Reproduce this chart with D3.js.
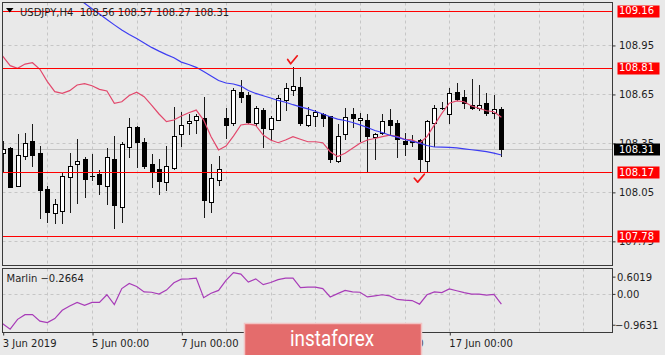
<!DOCTYPE html>
<html><head><meta charset="utf-8">
<script src="https://cdn.jsdelivr.net/npm/d3@7"></script>
<style>html,body{margin:0;padding:0;background:#e9e9e9;overflow:hidden}</style>
</head><body><svg id="c" width="665" height="355"></svg>
<script>
// ---------- DATA ----------
const symbol = "USDJPY,H4";
const open = [108.29,108.317,108.088,108.272,108.362,108.290,108.068,107.919,107.933,108.139,
  108.219,108.251,108.148,108.160,108.088,108.251,107.959,108.323,108.446,108.354,
  108.221,108.188,108.109,108.198,108.403,108.474,108.490,108.501,107.986,108.123,
  108.501,108.470,108.664,108.643,108.474,108.551,108.433,108.490,108.613,108.674,
  108.694,108.460,108.515,108.527,108.515,108.239,108.405,108.527,108.490,108.490,
  108.384,108.409,108.490,108.474,108.362,108.357,108.368,108.241,108.474,108.566,
  108.527,108.664,108.633,108.582,108.566,108.596,108.535,108.56];
const high = [108.36,108.325,108.403,108.409,108.464,108.331,108.088,108.005,108.164,108.290,
  108.374,108.266,108.282,108.184,108.317,108.394,108.357,108.504,108.454,108.382,
  108.282,108.250,108.331,108.568,108.541,108.527,108.527,108.633,108.221,108.272,
  108.566,108.684,108.735,108.664,108.576,108.562,108.515,108.643,108.719,108.813,
  108.752,108.572,108.551,108.531,108.515,108.464,108.562,108.562,108.531,108.527,
  108.409,108.527,108.556,108.490,108.409,108.398,108.376,108.490,108.582,108.602,
  108.684,108.719,108.674,108.740,108.705,108.654,108.643,108.57];
const low = [108.18,108.078,108.085,108.250,108.209,107.888,107.867,107.861,107.858,107.929,
  107.984,108.021,108.123,108.037,107.976,107.827,107.867,108.266,108.201,108.198,
  108.082,108.037,108.062,108.188,108.331,108.403,108.409,107.894,107.929,108.092,
  108.378,108.460,108.602,108.470,108.459,108.327,108.368,108.490,108.551,108.643,
  108.460,108.454,108.454,108.454,108.231,108.235,108.372,108.449,108.363,108.180,
  108.250,108.405,108.405,108.262,108.276,108.331,108.174,108.180,108.331,108.556,
  108.470,108.613,108.562,108.556,108.551,108.521,108.501,108.27];
const close = [108.31,108.082,108.276,108.351,108.276,108.062,107.929,107.976,108.149,108.210,
  108.239,108.129,108.146,108.098,108.262,107.970,108.341,108.449,108.357,108.209,
  108.180,108.119,108.210,108.392,108.460,108.484,108.513,108.000,108.133,108.188,
  108.460,108.674,108.629,108.480,108.562,108.439,108.501,108.623,108.684,108.700,
  108.474,108.521,108.541,108.501,108.251,108.392,108.510,108.501,108.501,108.392,
  108.405,108.486,108.460,108.372,108.341,108.363,108.250,108.486,108.562,108.564,
  108.654,108.619,108.596,108.562,108.582,108.535,108.556,108.31];
const redMA = [108.882,108.823,108.807,108.833,108.841,108.801,108.725,108.664,108.654,108.670,
  108.705,108.713,108.700,108.678,108.668,108.593,108.602,108.640,108.660,108.633,
  108.582,108.527,108.480,108.490,108.515,108.535,108.551,108.490,108.388,108.307,
  108.331,108.392,108.460,108.466,108.457,108.398,108.368,108.351,108.368,108.388,
  108.372,108.357,108.357,108.351,108.296,108.266,108.286,108.317,108.348,108.368,
  108.377,108.388,108.398,108.388,108.372,108.368,108.348,108.388,108.460,108.531,
  108.593,108.607,108.602,108.576,108.562,108.547,108.541,108.507];
const blueStart = 10;
const blueMA = [109.24,109.205,109.172,109.139,109.106,109.073,109.041,109.014,108.989,108.962,
  108.935,108.912,108.891,108.872,108.845,108.830,108.813,108.787,108.760,108.732,
  108.717,108.711,108.698,108.671,108.653,108.639,108.625,108.610,108.599,108.584,
  108.571,108.558,108.544,108.527,108.510,108.496,108.487,108.475,108.460,108.444,
  108.426,108.414,108.397,108.385,108.371,108.360,108.349,108.334,108.325,108.324,
  108.322,108.319,108.313,108.308,108.303,108.296,108.287,108.276];
const marlin = [-0.81,-0.963,-0.69,-0.56,-0.56,-0.74,-0.78,-0.67,-0.44,-0.32,
  -0.22,-0.30,-0.22,-0.22,-0.01,-0.28,0.16,0.30,0.22,0.07,
  0.06,0.01,0.12,0.32,0.42,0.43,0.45,-0.09,0.03,0.11,
  0.39,0.6019,0.56,0.34,0.43,0.27,0.33,0.41,0.45,0.45,
  0.19,0.20,0.20,0.16,-0.07,0.02,0.11,0.07,0.06,-0.07,
  -0.04,-0.01,-0.04,-0.14,-0.16,-0.17,-0.27,-0.01,0.07,0.05,
  0.15,0.10,0.05,0.01,0.01,-0.02,0.00,-0.2664];
const levels = [109.16,108.81,108.17,107.78];
const priceTicks = [108.95,108.65,108.35,108.05,107.75];
const lastPrice = 108.31;
const timeLabels = ["3 Jun 2019","5 Jun 00:00","7 Jun 00:00","11 Jun 00:00","13 Jun 00:00","17 Jun 00:00"];
const timeLabelBars = [0,12,24,36,48,60];
const dayBars = [6,12,18,24,30,36,42,48,54,60,66,72,78];
const marlinTicks = [0.6019,0.00,-0.9631];
const marlinName = "Marlin";
const checkHighBar = 39, checkLowBar = 56;

// ---------- LAYOUT ----------
const svg = d3.select("#c");
const L = 2.5, R = 612.5, T = 2.5, B = 265.5, LT = 268.5, LB = 332.5;
const x = d3.scaleLinear().domain([0, 67]).range([2.7, 2.7 + 67*7.443]);
const y = d3.scaleLinear().domain([107.602, 109.207]).range([265, 3]);
const ym = d3.scaleLinear().domain([-1.059, 0.7105]).range([332.7, 268.7]);
const px = v => Math.round(v) + 0.5;
const FONT = "DejaVu Sans, Verdana, sans-serif";
const BG = "#e9e9e9";

svg.append("rect").attr("width",665).attr("height",355).attr("fill",BG);

const defs = svg.append("defs");
defs.append("clipPath").attr("id","cm").append("rect").attr("x",L).attr("y",T).attr("width",R-L).attr("height",B-T);
defs.append("clipPath").attr("id","cl").append("rect").attr("x",L).attr("y",LT).attr("width",R-L).attr("height",LB-LT);

const grid = svg.append("g").attr("stroke","#c6c6c6").attr("stroke-dasharray","3,3").attr("stroke-width",1);
dayBars.forEach(b => {
  const gx = px(x(b));
  if (gx < R) {
    grid.append("line").attr("x1",gx).attr("x2",gx).attr("y1",T).attr("y2",B);
    grid.append("line").attr("x1",gx).attr("x2",gx).attr("y1",LT).attr("y2",LB);
  }
});
priceTicks.forEach(p => grid.append("line").attr("x1",L).attr("x2",R).attr("y1",px(y(p))).attr("y2",px(y(p))));
grid.append("line").attr("x1",L).attr("x2",R).attr("y1",px(ym(0))).attr("y2",px(ym(0)));

// bid line
svg.append("line").attr("x1",L).attr("x2",R).attr("y1",px(y(lastPrice))).attr("y2",px(y(lastPrice)))
  .attr("stroke","#c4c4c4").attr("stroke-width",1);

// candles
const cg = svg.append("g").attr("clip-path","url(#cm)");
open.forEach((o,i) => {
  const c = close[i];
  const cx = Math.round(x(i));
  cg.append("line").attr("x1",cx+0.5).attr("x2",cx+0.5)
    .attr("y1",Math.round(y(high[i]))).attr("y2",Math.round(y(low[i]))+1)
    .attr("stroke","#1a1a1a").attr("stroke-width",1);
  const top = Math.round(y(Math.max(o,c))) + 0.5;
  const bot = Math.round(y(Math.min(o,c))) + 0.5;
  if (bot - top < 1) {
    cg.append("line").attr("x1",cx-2).attr("x2",cx+3).attr("y1",top).attr("y2",top)
      .attr("stroke","#000").attr("stroke-width",1);
  } else {
    cg.append("rect").attr("x",cx-1.5).attr("width",4).attr("y",top).attr("height",bot-top)
      .attr("fill", c >= o ? "#fff" : "#000").attr("stroke","#000").attr("stroke-width",1);
  }
});

// moving averages
const lineFn = d3.line().x(d=>x(d[0])).y(d=>y(d[1]));
const lg = svg.append("g").attr("clip-path","url(#cm)").attr("fill","none");
lg.append("path").attr("d", lineFn(redMA.map((v,i)=>[i,v]))).attr("stroke","#e2486c").attr("stroke-width",1.2);
lg.append("path").attr("d", lineFn(blueMA.map((v,i)=>[i+blueStart,v]))).attr("stroke","#3d3df2").attr("stroke-width",1.2);

// level lines
levels.forEach(p => svg.append("line").attr("x1",L).attr("x2",R).attr("y1",px(y(p))).attr("y2",px(y(p)))
  .attr("stroke","#ff0000").attr("stroke-width",1));

// check marks
const chk = svg.append("g").attr("fill","none").attr("stroke","#f01818").attr("stroke-width",1.7)
  .attr("stroke-linejoin","round").attr("stroke-linecap","round");
{
  const hx = x(checkHighBar), hy = y(high[checkHighBar]);
  chk.append("path").attr("d",`M${hx-5.3},${hy-7.8} L${hx-2.3},${hy-3.5} L${hx+4.3},${hy-11.5}`);
  const lx = x(checkLowBar), ly = y(low[checkLowBar]);
  chk.append("path").attr("d",`M${lx-5.2},${ly+6.6} L${lx-1.8},${ly+10.5} L${lx+4.8},${ly+2.6}`);
}

// marlin indicator
const mline = d3.line().x((d,i)=>x(i)).y(d=>ym(d));
svg.append("path").attr("clip-path","url(#cl)").attr("d", mline(marlin)).attr("fill","none")
  .attr("stroke","#a83cb8").attr("stroke-width",1.2);

// frames
const fr = svg.append("g").attr("fill","none").attr("stroke","#3a3a3a").attr("stroke-width",1);
fr.append("rect").attr("x",L).attr("y",T).attr("width",R-L).attr("height",B-T);
fr.append("rect").attr("x",L).attr("y",LT).attr("width",R-L).attr("height",LB-LT);

// price axis
const pa = svg.append("g").attr("transform",`translate(${R},0)`)
  .call(d3.axisRight(y).tickValues(priceTicks).tickSize(3).tickPadding(3).tickFormat(d3.format(".2f")));
pa.select(".domain").remove();
pa.selectAll("line").attr("stroke","#333").attr("transform","translate(0,0.5)");
pa.selectAll("text").attr("font-family",FONT).attr("font-size",10).attr("fill","#1e1e1e")
  .attr("x",6.5).attr("dy","0.36em");

// level boxes
levels.forEach(p => {
  const cy = y(p);
  svg.append("rect").attr("x",617.5).attr("y",Math.round(cy)-5.5).attr("width",42).attr("height",12).attr("fill","#ff0000");
  svg.append("text").attr("x",619).attr("y",cy).attr("dy","0.36em").attr("font-family",FONT).attr("font-size",10)
    .attr("fill","#fff").text(d3.format(".2f")(p));
});
{
  const cy = y(lastPrice);
  svg.append("rect").attr("x",614).attr("y",Math.round(cy)-5.5).attr("width",46).attr("height",12).attr("fill","#000");
  svg.append("text").attr("x",619).attr("y",cy).attr("dy","0.36em").attr("font-family",FONT).attr("font-size",10)
    .attr("fill","#fff").text(d3.format(".2f")(lastPrice));
}

// marlin axis
const ma = svg.append("g").attr("transform",`translate(${R},0)`)
  .call(d3.axisRight(ym).tickValues(marlinTicks).tickSize(3).tickPadding(2)
    .tickFormat(d => d === 0 ? "0.00" : d3.format(".4f")(d)));
ma.select(".domain").remove();
ma.selectAll(".tick").attr("transform", d => {
  let yy = ym(d);
  if (d === marlinTicks[0]) yy += 4.5;
  if (d === marlinTicks[2]) yy -= 4;
  return `translate(0,${yy})`;
});
ma.selectAll("line").attr("stroke","#333");
ma.selectAll("text").attr("font-family",FONT).attr("font-size",10).attr("fill","#1e1e1e")
  .attr("x",d => d < 0 ? 2.5 : 4.5).attr("dy","0.36em");

svg.append("text").attr("x",6.5).attr("y",281.5).attr("font-family",FONT).attr("font-size",10).attr("fill","#1e1e1e")
  .text(`${marlinName} ${d3.format(".4f")(marlin[marlin.length-1])}`);

// time axis
const ta = svg.append("g").attr("transform",`translate(0,${LB})`)
  .call(d3.axisBottom(x).tickValues(timeLabelBars).tickSize(3).tickFormat((d,i)=>timeLabels[i]));
ta.select(".domain").remove();
ta.selectAll("line").attr("stroke","#333").attr("transform","translate(0.5,0)");
ta.selectAll("text").attr("font-family",FONT).attr("font-size",10).attr("fill","#1e1e1e")
  .attr("text-anchor","start").attr("x",-0.5).attr("y",14.3).attr("dy",0);

// title
svg.append("path").attr("d","M6,8 L13.5,8 L9.75,12.5 Z").attr("fill","#000");
svg.append("text").attr("x",20).attr("y",16).attr("font-family",FONT).attr("font-size",10).attr("fill","#1e1e1e")
  .attr("xml:space","preserve").style("white-space","pre")
  .text(`${symbol}  ${open[67].toFixed(2)} ${high[67].toFixed(2)} ${low[67].toFixed(2)} ${close[67].toFixed(2)}`);

// watermark
svg.append("rect").attr("x",244.5).attr("y",323.5).attr("width",177).attr("height",34)
  .attr("fill","#e46c6c").attr("stroke","#f2c4c4").attr("stroke-width",1.5);
svg.append("text").attr("x",290).attr("y",345.5).attr("font-family","Roboto, sans-serif").attr("font-size",22)
  .attr("fill","#fff").attr("textLength",84).attr("lengthAdjust","spacingAndGlyphs").text("instaforex");
</script></body></html>
